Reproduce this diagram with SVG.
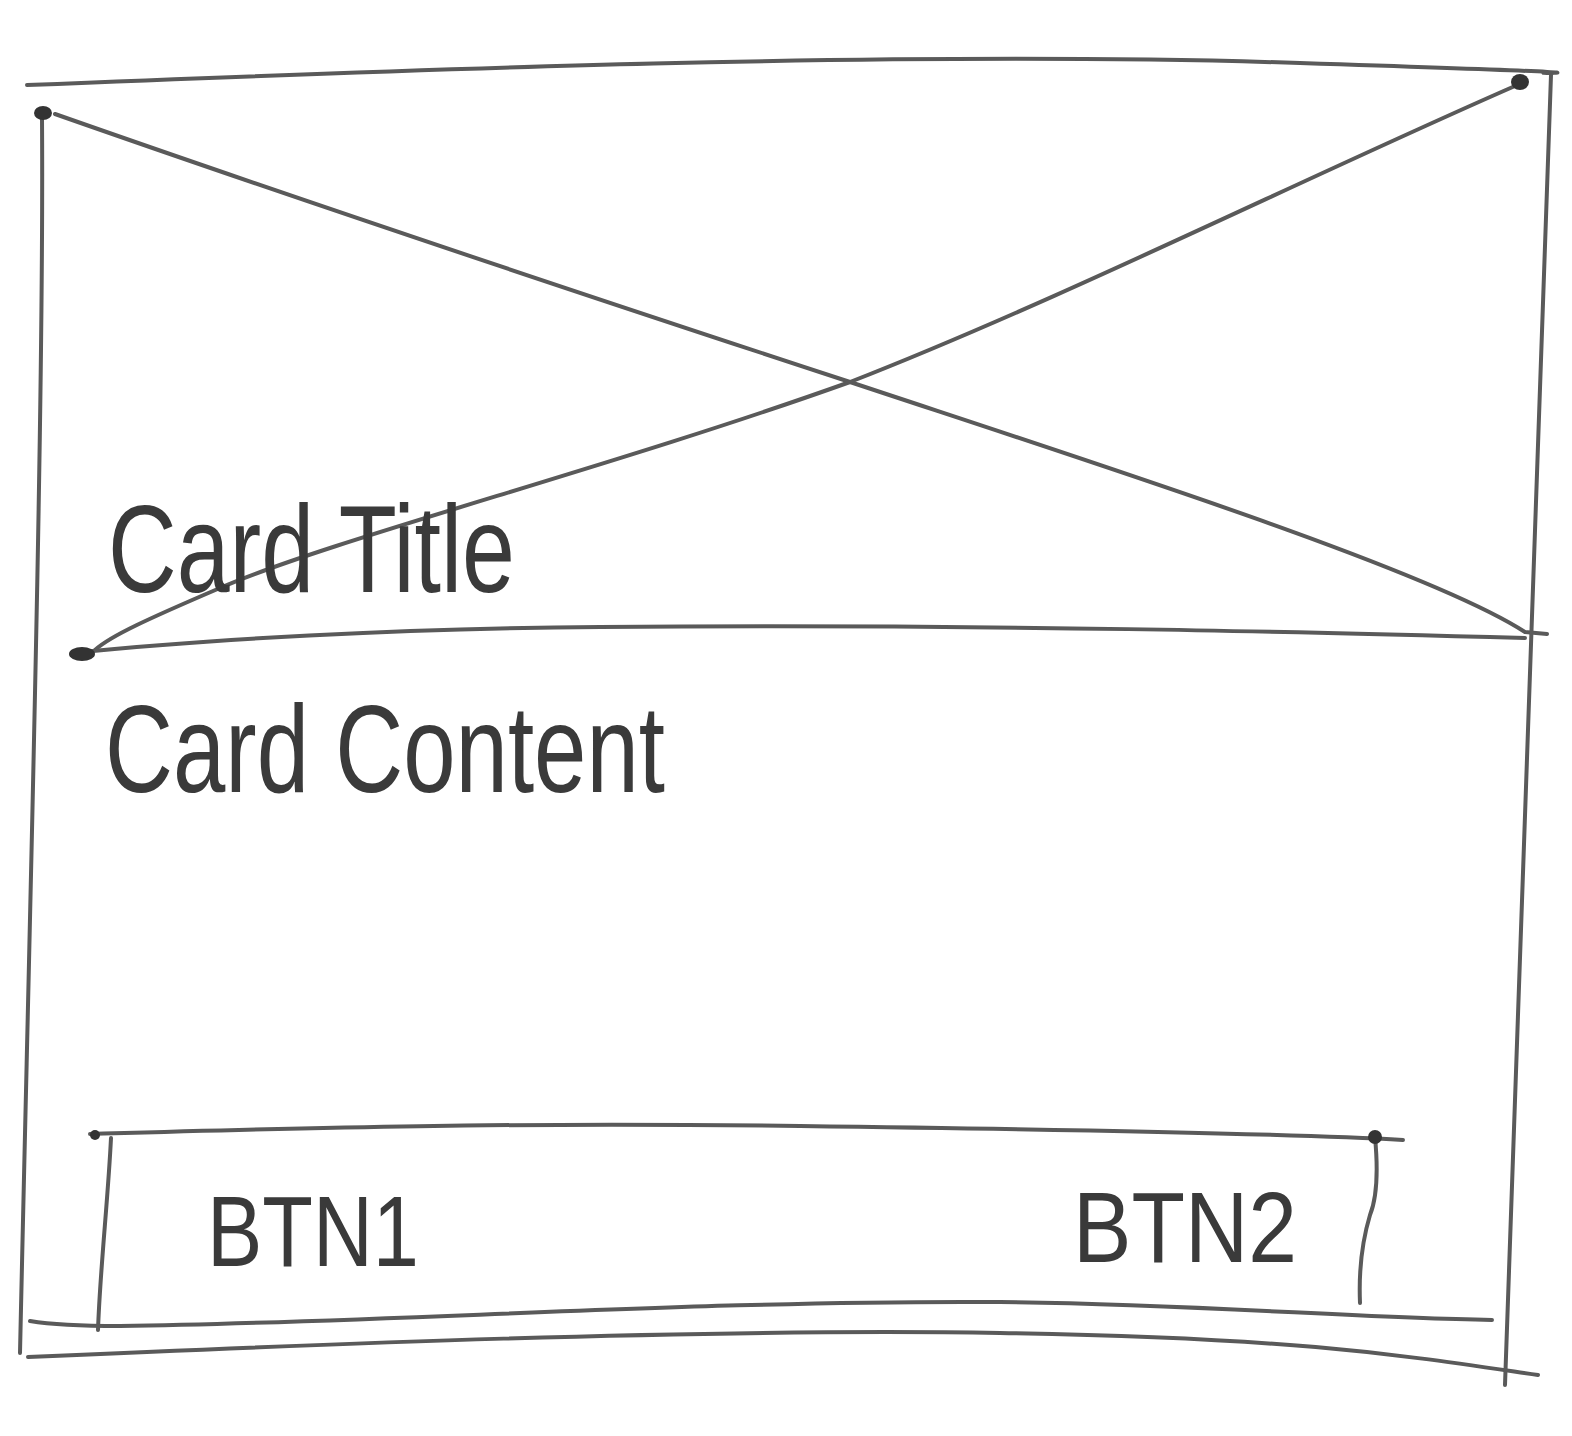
<svg xmlns="http://www.w3.org/2000/svg" width="1572" height="1436" viewBox="0 0 1572 1436">
  <style>
    .ln { fill: none; stroke: #5a5a5a; stroke-width: 4; stroke-linecap: round; stroke-linejoin: round; }
    .dot { fill: #333333; }
    .hand { font-family: "Liberation Sans", Arial, sans-serif; fill: #3a3a3a; font-weight: 300; }
  </style>
  <rect width="1572" height="1436" fill="#ffffff"/>

  <g id="card-frame">
    <path class="ln" d="M27,85 C400,70 900,50 1300,63 S1500,72 1553,73"/>
    <path class="ln" d="M42,118 C44,400 30,900 20,1353"/>
    <path class="ln" d="M1551,75 C1540,300 1525,700 1505,1385"/>
    <path class="ln" d="M28,1357 C300,1345 700,1328 1000,1333 S1400,1355 1538,1375"/>
  </g>

  <g id="image-placeholder">
    <path class="ln" d="M55,114 C300,200 600,300 850,382 C1100,465 1430,570 1525,632 L1547,634"/>
    <path class="ln" d="M1515,86 C1300,180 1060,300 850,382 C610,468 330,540 220,588 C150,618 110,636 95,650"/>
    <path class="ln" d="M72,653 C200,640 400,628 600,627 C1000,624 1300,632 1525,638"/>
    <ellipse class="dot" cx="43" cy="113" rx="9" ry="7"/>
    <ellipse class="dot" cx="1520" cy="82" rx="9" ry="8"/>
    <ellipse class="dot" cx="82" cy="654" rx="13" ry="7"/>
  </g>

  <g id="card-title">
    <text class="hand" x="108" y="592" font-size="125" textLength="407" lengthAdjust="spacingAndGlyphs">Card Title</text>
  </g>

  <g id="card-content">
    <text class="hand" x="105" y="792" font-size="125" textLength="560" lengthAdjust="spacingAndGlyphs">Card Content</text>
  </g>

  <g id="button-bar">
    <path class="ln" d="M90,1134 C300,1128 500,1122 800,1126 C1100,1130 1300,1134 1403,1140"/>
    <path class="ln" d="M111,1138 C108,1200 100,1270 98,1330"/>
    <path class="ln" d="M1375,1137 Q1380,1190 1370,1215 Q1358,1255 1360,1303"/>
    <path class="ln" d="M30,1321 Q60,1326 120,1326 C400,1322 700,1300 1000,1302 C1200,1304 1350,1318 1492,1320"/>
    <circle class="dot" cx="95" cy="1135" r="5"/>
    <circle class="dot" cx="1375" cy="1137" r="7"/>
  </g>

  <g id="btn1">
    <text class="hand" x="207" y="1266" font-size="100" textLength="212" lengthAdjust="spacingAndGlyphs">BTN1</text>
  </g>

  <g id="btn2">
    <text class="hand" x="1073" y="1262" font-size="100" textLength="224" lengthAdjust="spacingAndGlyphs">BTN2</text>
  </g>

  <g id="connectors"></g>
</svg>
